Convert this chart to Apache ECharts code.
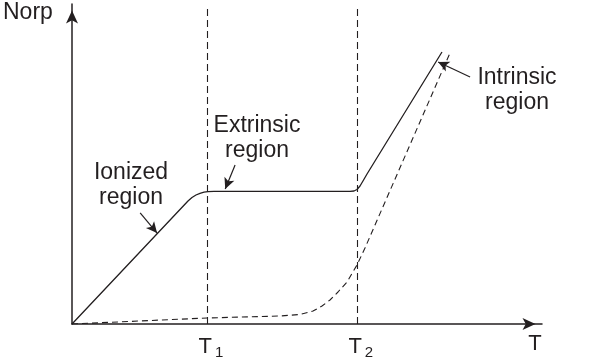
<!DOCTYPE html>
<html>
<head>
<meta charset="utf-8">
<script src="https://cdn.jsdelivr.net/npm/echarts@6/dist/echarts.min.js"></script>
<style>
html,body{margin:0;padding:0;background:#fff;}
#c{width:597px;height:363px;}
</style>
</head>
<body>
<div id="c"></div>
<script>
// x: temperature (0..100 axis units), y: carrier concentration (0..100 units)
const solidCurve = [[0,0],[24.68,38.44],[25.53,39.53],[26.38,40.31],[27.23,40.84],[28.09,41.19],[28.94,41.38],[30.21,41.44],[59.15,41.44],[60,41.56],[60.64,42.03],[61.28,43.13],[61.91,44.69],[62.77,46.88],[78.72,85]];
const dashedCurve = [[0,0],[28.72,1.88],[44.26,2.5],[48.51,2.97],[51.28,4.06],[53.19,5.63],[54.89,7.5],[56.6,10],[58.51,13.13],[60.64,18.44],[62.34,23.75],[80.43,84.69]];
const T1 = 28.7, T2 = 60.6, Tend = 98.5;
const guideTop = 98.75;
const tickValues = [T1, T2, Tend];
const tickLabels = ['{p|}{t|T}{s|1}', '{p|}{t|T}{s|2}', '{t|T}'];
const arrowIonized = [[14.5,34.7],[18.1,28.4]];
const arrowExtrinsic = [[34.7,49.7],[32.6,42.2]];
const arrowIntrinsic = [[84.7,77.2],[77.9,81.9]];

const FONT = "'Liberation Sans', Arial, Helvetica, sans-serif";
const INK = '#231f20';

function arrowLine(pair){
  return [{coord: pair[0], symbol: 'none'}, {coord: pair[1], symbol: 'arrow'}];
}

const chart = echarts.init(document.getElementById('c'));
chart.setOption({
  animation: false,
  grid: {left: 72, right: 55, top: 4, bottom: 39},
  xAxis: {
    type: 'value', min: 0, max: 100,
    splitLine: {show: false},
    axisLine: {show: true, symbol: ['none','arrow'], symbolSize: [9,13], symbolOffset: [0,-6.5], lineStyle: {color: INK, width: 1.5}},
    axisTick: {show: false},
    axisLabel: {
      customValues: tickValues,
      margin: 9,
      formatter: function(v){ return tickLabels[tickValues.indexOf(v)]; },
      rich: {
        p: {width: 8, fontSize: 22, fontFamily: FONT},
        t: {fontSize: 22, fontFamily: FONT, color: INK},
        s: {fontSize: 15, fontFamily: FONT, color: INK, padding: [12,0,0,3]}
      }
    }
  },
  yAxis: {
    type: 'value', min: 0, max: 100,
    splitLine: {show: false},
    axisLine: {show: true, symbol: ['none','arrow'], symbolSize: [9,13], symbolOffset: [0,-6.5], lineStyle: {color: INK, width: 1.5}},
    axisTick: {show: false},
    axisLabel: {show: false}
  },
  series: [
    {
      type: 'line', data: solidCurve, smooth: false, showSymbol: false, silent: true,
      lineStyle: {color: INK, width: 1.3, join: 'round'},
      markLine: {
        silent: true, symbolSize: [8,11], label: {show: false},
        lineStyle: {color: INK, width: 1.2, type: 'solid'},
        data: [arrowLine(arrowIonized), arrowLine(arrowExtrinsic), arrowLine(arrowIntrinsic)]
      }
    },
    {
      type: 'line', data: dashedCurve, smooth: false, showSymbol: false, silent: true,
      lineStyle: {color: INK, width: 1.1, type: [6,4], join: 'round'},
      markLine: {
        silent: true, symbol: 'none', label: {show: false},
        lineStyle: {color: INK, width: 1.1, type: [7,4]},
        data: [
          [{coord: [T1, 0]}, {coord: [T1, guideTop]}],
          [{coord: [T2, 0]}, {coord: [T2, guideTop]}]
        ]
      }
    }
  ],
  graphic: [
    {type: 'text', left: 3, top: 1, style: {text: 'Norp', font: '23px ' + FONT, fill: INK}},
    {type: 'text', x: 131, y: 185, style: {text: 'Ionized\nregion', font: '23px ' + FONT, fill: INK, align: 'center', verticalAlign: 'middle', lineHeight: 25}},
    {type: 'text', x: 257, y: 138, style: {text: 'Extrinsic\nregion', font: '23px ' + FONT, fill: INK, align: 'center', verticalAlign: 'middle', lineHeight: 25}},
    {type: 'text', x: 517, y: 90, style: {text: 'Intrinsic\nregion', font: '23px ' + FONT, fill: INK, align: 'center', verticalAlign: 'middle', lineHeight: 25}}
  ]
});
</script>
</body>
</html>
